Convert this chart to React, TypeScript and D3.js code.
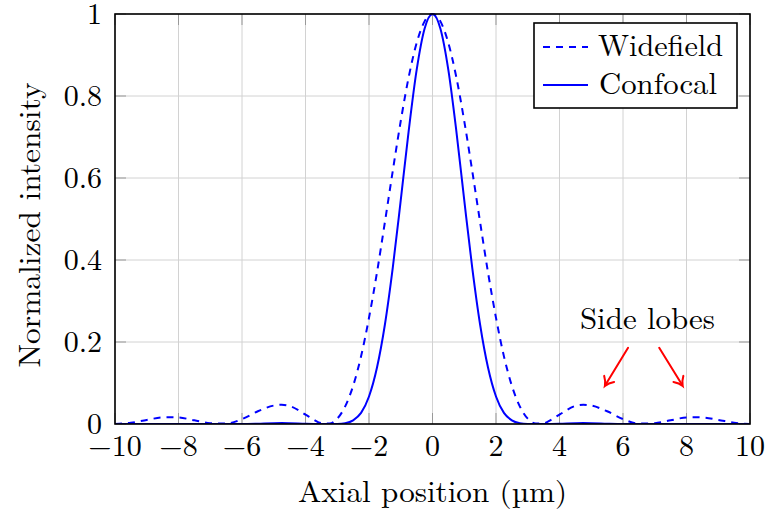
import React from "react";
import * as d3 from "d3";

// Axial positions (µm) sampled along the curves
const positions = [
  -10, -9.5, -9, -8.5, -8.25, -8, -7.5, -7, -6.5, -6, -5.5, -5, -4.75, -4.5, -4, -3.75, -3.5, -3.25, -3,
  -2.75, -2.5, -2.25, -2, -1.75, -1.5, -1.25, -1, -0.75, -0.5, -0.25, 0,
  0.25, 0.5, 0.75, 1, 1.25, 1.5, 1.75, 2, 2.25, 2.5, 2.75, 3, 3.25, 3.5, 3.75, 4, 4.5, 4.75, 5,
  5.5, 6, 6.5, 7, 7.5, 8, 8.25, 8.5, 9, 9.5, 10,
];

const widefield = [
  0.0, 0.003, 0.01, 0.016, 0.0165, 0.016, 0.009, 0.002, 0.001, 0.012, 0.031, 0.045, 0.047, 0.044, 0.023, 0.011, 0.002, 0.001, 0.013,
  0.043, 0.093, 0.165, 0.259, 0.369, 0.492, 0.618, 0.739, 0.846, 0.929, 0.982, 1.0,
  0.982, 0.929, 0.846, 0.739, 0.618, 0.492, 0.369, 0.259, 0.165, 0.093, 0.043, 0.013, 0.001, 0.002, 0.011, 0.023, 0.044, 0.047, 0.045,
  0.031, 0.012, 0.001, 0.002, 0.009, 0.016, 0.0165, 0.016, 0.01, 0.003, 0.0,
];

const confocal = [
  0, 0, 0.0001, 0.0002, 0.0003, 0.0002, 0.0001, 0, 0, 0.0001, 0.0009, 0.0021, 0.0022, 0.0019, 0.0005, 0.0001, 0, 0, 0.0002,
  0.002, 0.009, 0.027, 0.067, 0.137, 0.242, 0.382, 0.546, 0.715, 0.863, 0.964, 1.0,
  0.964, 0.863, 0.715, 0.546, 0.382, 0.242, 0.137, 0.067, 0.027, 0.009, 0.002, 0.0002, 0, 0, 0.0001, 0.0005, 0.0019, 0.0022, 0.0021,
  0.0009, 0.0001, 0, 0, 0.0001, 0.0002, 0.0003, 0.0002, 0.0001, 0, 0,
];

const xTicks = [-10, -8, -6, -4, -2, 0, 2, 4, 6, 8, 10];
const yTicks = [0, 0.2, 0.4, 0.6, 0.8, 1];
const yTickLabels = ["0", "0.2", "0.4", "0.6", "0.8", "1"];

const seriesNames = ["Widefield", "Confocal"];
const annotationText = "Side lobes";
const annotationAnchor = [6.77, 0.232];
// arrows: [x0, y0, x1, y1] in data coordinates
const arrows = [
  [6.16, 0.186, 5.43, 0.093],
  [7.14, 0.186, 7.88, 0.093],
];

const W = 768;
const H = 513;
const M = { left: 115, right: 750, top: 14, bottom: 424 };
const FONT =
  '"Latin Modern Roman", "CMU Serif", "Liberation Serif", "DejaVu Serif", "Noto Serif", "Tinos", "FreeSerif", "Noto Serif CJK SC", "Noto Serif CJK JP", "Times New Roman", serif';
const BLUE = "#0000ff";

export default function App() {
  const x = d3.scaleLinear().domain([-10, 10]).range([M.left, M.right]);
  const y = d3.scaleLinear().domain([0, 1]).range([M.bottom, M.top]);

  const pts = (vals: number[]) => positions.map((p, i) => [p, vals[i]] as [number, number]);
  const line = d3
    .line<[number, number]>()
    .x((d) => x(d[0]))
    .y((d) => y(d[1]))
    .curve(d3.curveMonotoneX);

  const tick = 11;

  const arrowPaths = arrows.map(([x0, y0, x1, y1]) => {
    const ax = x(x0), ay = y(y0), bx = x(x1), by = y(y1);
    const ang = Math.atan2(by - ay, bx - ax);
    const len = 10;
    const spread = 0.62;
    const h1 = [bx - len * Math.cos(ang - spread), by - len * Math.sin(ang - spread)];
    const h2 = [bx - len * Math.cos(ang + spread), by - len * Math.sin(ang + spread)];
    const c1 = [bx - 0.45 * len * Math.cos(ang - spread * 0.55), by - 0.45 * len * Math.sin(ang - spread * 0.55)];
    const c2 = [bx - 0.45 * len * Math.cos(ang + spread * 0.55), by - 0.45 * len * Math.sin(ang + spread * 0.55)];
    return {
      shaft: `M${ax},${ay}L${bx - 1.2 * Math.cos(ang)},${by - 1.2 * Math.sin(ang)}`,
      head: `M${h1[0]},${h1[1]}Q${c1[0]},${c1[1]} ${bx},${by}Q${c2[0]},${c2[1]} ${h2[0]},${h2[1]}`,
    };
  });

  const txt: React.CSSProperties = { fontFamily: FONT };

  return (
    <svg
      width={W}
      height={H}
      viewBox={`0 0 ${W} ${H}`}
      style={{ position: "absolute", left: 0, top: 0, background: "#fff", fontFamily: FONT }}
    >
      <rect x={0} y={0} width={W} height={H} fill="#fff" />
      <defs>
        <clipPath id="plot">
          <rect x={M.left} y={M.top - 2} width={M.right - M.left} height={M.bottom - M.top + 2} />
        </clipPath>
      </defs>

      {/* grid */}
      <g stroke="#d2d2d2" strokeWidth={1}>
        {xTicks.map((t) => (
          <line key={"gx" + t} x1={x(t)} x2={x(t)} y1={M.top} y2={M.bottom} />
        ))}
        {yTicks.map((t) => (
          <line key={"gy" + t} x1={M.left} x2={M.right} y1={y(t)} y2={y(t)} />
        ))}
      </g>
      {/* ticks (inward, both sides) */}
      <g stroke="#999" strokeWidth={1}>
        {xTicks.map((t) => (
          <g key={"tx" + t}>
            <line x1={x(t)} x2={x(t)} y1={M.bottom} y2={M.bottom - tick} />
            <line x1={x(t)} x2={x(t)} y1={M.top} y2={M.top + tick} />
          </g>
        ))}
        {yTicks.map((t) => (
          <g key={"ty" + t}>
            <line x1={M.left} x2={M.left + tick} y1={y(t)} y2={y(t)} />
            <line x1={M.right} x2={M.right - tick} y1={y(t)} y2={y(t)} />
          </g>
        ))}
      </g>

      {/* curves */}
      <g clipPath="url(#plot)" fill="none" stroke={BLUE} strokeWidth={2}>
        <path d={line(pts(widefield)) || ""} strokeDasharray="7 6" />
        <path d={line(pts(confocal)) || ""} />
      </g>

      {/* frame */}
      <rect
        x={M.left}
        y={M.top}
        width={M.right - M.left}
        height={M.bottom - M.top}
        fill="none"
        stroke="#000"
        strokeWidth={1.6}
      />

      {/* tick labels */}
      <g fontSize={30} fill="#000">
        {xTicks.map((t) => (
          <text key={"lx" + t} x={x(t)} y={456} textAnchor="middle" style={txt}>
            {t < 0 ? "\u2212" + Math.abs(t) : String(t)}
          </text>
        ))}
        {yTicks.map((t, i) => (
          <text key={"ly" + t} x={102} y={y(t) + 10} textAnchor="end" style={txt}>
            {yTickLabels[i]}
          </text>
        ))}
      </g>

      {/* axis labels */}
      <text x={298} y={502} fontSize={30} textLength={269} lengthAdjust="spacingAndGlyphs" style={txt}>
        Axial position (µm)
      </text>
      <text
        transform={`translate(40, 225) rotate(-90)`}
        textAnchor="middle"
        fontSize={30}
        textLength={285}
        lengthAdjust="spacingAndGlyphs"
        style={txt}
      >
        Normalized intensity
      </text>

      {/* annotation */}
      <text
        x={x(annotationAnchor[0])}
        y={y(annotationAnchor[1])}
        textAnchor="middle"
        fontSize={30}
        textLength={135}
        lengthAdjust="spacingAndGlyphs"
        style={txt}
      >
        {annotationText}
      </text>
      <g stroke="#ff0000" strokeWidth={2} fill="none" strokeLinecap="round">
        {arrowPaths.map((a, i) => (
          <g key={"ar" + i}>
            <path d={a.shaft} />
            <path d={a.head} />
          </g>
        ))}
      </g>

      {/* legend */}
      <rect x={534} y={23} width={203} height={85} fill="#fff" stroke="#000" strokeWidth={1.6} />
      <line x1={543} x2={588} y1={47} y2={47} stroke={BLUE} strokeWidth={2} strokeDasharray="7 6" />
      <line x1={543} x2={588} y1={85} y2={85} stroke={BLUE} strokeWidth={2} />
      <text x={598} y={56} fontSize={30} textLength={125} lengthAdjust="spacingAndGlyphs" style={txt}>
        {seriesNames[0]}
      </text>
      <text x={599} y={94} fontSize={30} textLength={118} lengthAdjust="spacingAndGlyphs" style={txt}>
        {seriesNames[1]}
      </text>
    </svg>
  );
}
